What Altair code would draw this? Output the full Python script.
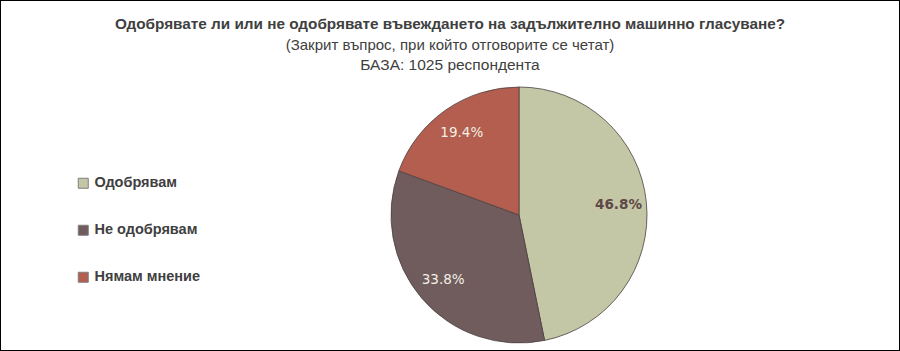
import altair as alt
import pandas as pd

categories = ["Одобрявам", "Не одобрявам", "Нямам мнение"]
values = [46.8, 33.8, 19.4]
labels = ["46.8%", "33.8%", "19.4%"]
colors = ["#C4C7A6", "#705C5C", "#B35E4E"]
title_lines = [
    "Одобрявате ли или не одобрявате въвеждането на задължително машинно гласуване?",
    "(Закрит въпрос, при който отговорите се четат)",
    "БАЗА: 1025 респондента",
]

df = pd.DataFrame({"cat": categories, "val": values, "lab": labels, "order": [0, 1, 2]})
tdf = pd.DataFrame({"t": title_lines, "i": [0, 1, 2]})

CX, CY, R = 519, 215, 128
NARROW = "Liberation Sans Narrow, Arial Narrow, Liberation Sans, sans-serif"

color = alt.Color(
    "cat:N",
    scale=alt.Scale(domain=categories, range=colors),
    sort=categories,
    legend=alt.Legend(
        title=None,
        orient="none",
        legendX=76,
        legendY=176,
        symbolType="square",
        symbolSize=100,
        symbolStrokeColor="#7f7f7f",
        symbolStrokeWidth=1,
        labelFont="Liberation Sans",
        labelFontSize=14.5,
        labelFontWeight="bold",
        labelColor="#404040",
        rowPadding=31,
        labelOffset=4,
    ),
)

base = alt.Chart(df)
pie = base.mark_arc(outerRadius=R, stroke="#4a4040", strokeWidth=0.8).encode(
    theta=alt.Theta("val:Q", stack=True),
    order=alt.Order("order:Q"),
    color=color,
    x=alt.value(CX),
    y=alt.value(CY),
)

txt_common = dict(radius=100, font="DejaVu Sans", fontSize=13.5)
lab_big = base.mark_text(fontWeight="bold", color="#5E4848", **txt_common).encode(
    theta=alt.Theta("val:Q", stack=True),
    order=alt.Order("order:Q"),
    text="lab:N",
    x=alt.value(CX),
    y=alt.value(CY),
    opacity=alt.condition(alt.datum.order == 0, alt.value(1), alt.value(0)),
)
lab_small = base.mark_text(color="#F2F0E4", **txt_common).encode(
    theta=alt.Theta("val:Q", stack=True),
    order=alt.Order("order:Q"),
    text="lab:N",
    x=alt.value(CX),
    y=alt.value(CY),
    opacity=alt.condition(alt.datum.order == 0, alt.value(0), alt.value(1)),
)

t1 = alt.Chart(tdf).transform_filter(alt.datum.i == 0).mark_text(
    font=NARROW, fontSize=15.3, fontWeight="bold", color="#404040"
).encode(text="t:N", x=alt.value(450), y=alt.value(24))
t2 = alt.Chart(tdf).transform_filter(alt.datum.i == 1).mark_text(
    font=NARROW, fontSize=15, color="#404040"
).encode(text="t:N", x=alt.value(450), y=alt.value(45))
t3 = alt.Chart(tdf).transform_filter(alt.datum.i == 2).mark_text(
    font=NARROW, fontSize=15.5, color="#404040"
).encode(text="t:N", x=alt.value(450), y=alt.value(65))

chart = (
    alt.layer(pie, lab_big, lab_small, t1, t2, t3)
    .properties(width=900, height=351, autosize=alt.AutoSizeParams(type="none"), padding=0)
    .configure_view(stroke="#000000", strokeWidth=2)
)

chart.save("out.html", embed_options={"renderer": "svg", "actions": False})
